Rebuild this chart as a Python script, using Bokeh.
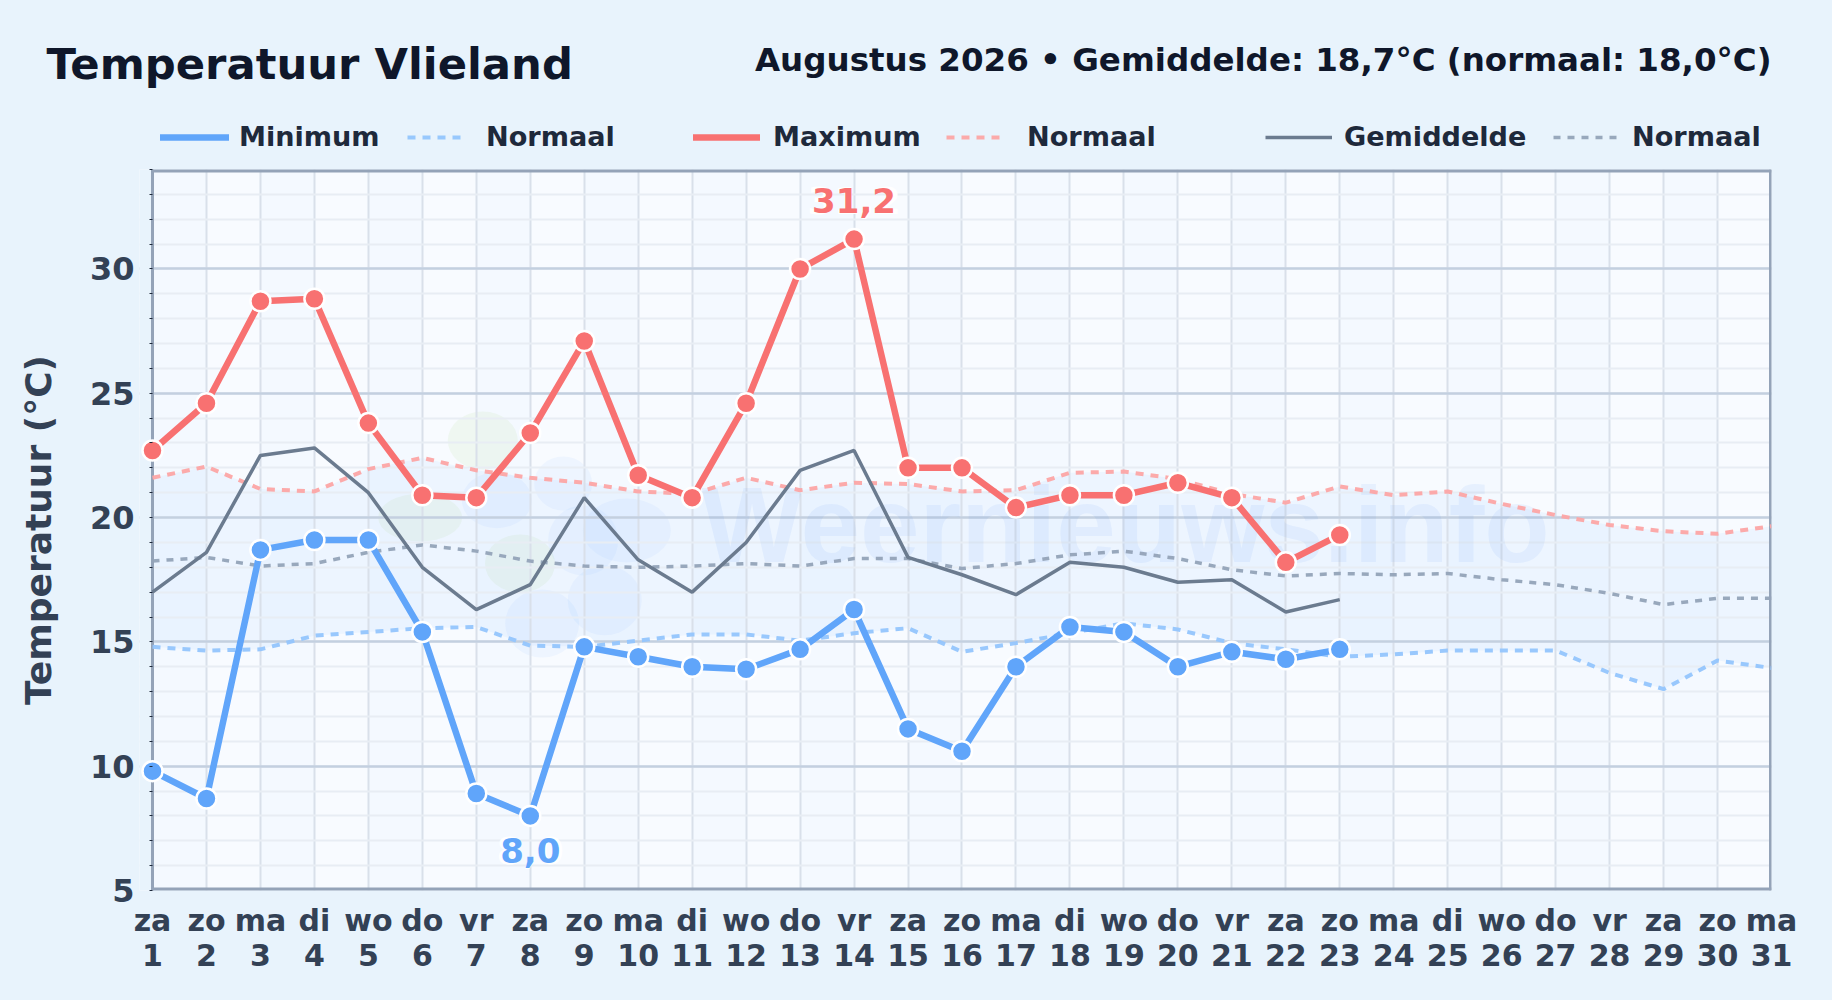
from bokeh.plotting import figure
from bokeh.models import (Label, Legend, LegendItem, FixedTicker, SingleIntervalTicker, Range1d)
from bokeh.core.properties import value
from bokeh.embed import file_html
from bokeh.resources import INLINE

TITLE = "Temperatuur Vlieland"
SUBTITLE = "Augustus 2026 • Gemiddelde: 18,7°C (normaal: 18,0°C)"
YLABEL = "Temperatuur (°C)"
WATERMARK = "Weernieuws.info"
weekdays = ["za","zo","ma","di","wo","do","vr","za","zo","ma","di","wo","do","vr","za","zo","ma","di","wo","do","vr","za","zo","ma","di","wo","do","vr","za","zo","ma"]
days = list(range(1, 32))
tmin = [9.8,8.7,18.7,19.1,19.1,15.4,8.9,8.0,14.8,14.4,14.0,13.9,14.7,16.3,11.5,10.6,14.0,15.6,15.4,14.0,14.6,14.3,14.7]
tmax = [22.7,24.6,28.7,28.8,23.8,20.9,20.8,23.4,27.1,21.7,20.8,24.6,30.0,31.2,22.0,22.0,20.4,20.9,20.9,21.4,20.8,18.2,19.3]
tavg = [17.0,18.6,22.5,22.8,21.0,18.0,16.3,17.3,20.8,18.3,17.0,19.0,21.9,22.7,18.4,17.7,16.9,18.2,18.0,17.4,17.5,16.2,16.7]
nmin = [14.8,14.65,14.7,15.25,15.4,15.55,15.6,14.85,14.8,15.05,15.3,15.3,15.05,15.35,15.55,14.6,14.95,15.35,15.75,15.5,14.95,14.7,14.4,14.5,14.65,14.65,14.65,13.75,13.1,14.25,13.95]
nmax = [21.6,22.05,21.15,21.05,21.95,22.4,21.9,21.6,21.4,21.05,20.95,21.6,21.1,21.4,21.35,21.05,21.1,21.8,21.85,21.55,20.95,20.6,21.25,20.9,21.05,20.55,20.1,19.7,19.45,19.35,19.65]
navg = [18.25,18.4,18.05,18.15,18.6,18.9,18.65,18.25,18.05,18.0,18.05,18.15,18.05,18.35,18.35,17.95,18.15,18.5,18.65,18.35,17.9,17.65,17.75,17.7,17.75,17.5,17.3,16.95,16.5,16.75,16.75]

BG = "#e8f3fc"
BLUE = "#60a5fa"; RED = "#f87171"; SLATE = "#6b7b8f"; EDGE = "#94a3b8"
F = "DejaVu Sans"
STY = {
    "min":  dict(line_color=BLUE, line_width=6.5, line_cap="round"),
    "max":  dict(line_color=RED, line_width=6.5, line_cap="round"),
    "avg":  dict(line_color=SLATE, line_width=3.5),
    "nmin": dict(line_color="#93c5fd", line_width=4, line_dash="8 7", line_alpha=0.95),
    "nmax": dict(line_color="#fca5a5", line_width=4, line_dash="8 7", line_alpha=0.95),
    "navg": dict(line_color=EDGE, line_width=3.5, line_dash="7 7", line_alpha=0.95),
}

# ---------- header: title, subtitle, legend ----------
H = 160
head = figure(width=1832, height=H, output_backend="svg", toolbar_location=None,
              x_range=Range1d(0, 1832), y_range=Range1d(H, 0), x_axis_type=None, y_axis_type=None,
              min_border=0, background_fill_color=BG, border_fill_color=BG)
head.outline_line_color = None; head.grid.visible = False
head.add_layout(Label(x=46, y=63, text=TITLE, text_font=F, text_font_style="bold", text_font_size="43.3px",
                      text_color="#0f172a", text_baseline="alphabetic"))
head.add_layout(Label(x=1771, y=59, text=SUBTITLE, text_font=F, text_font_style="bold", text_font_size="32.5px",
                      text_color="#0f172a", text_align="right", text_baseline="alphabetic"))
entries = [("Minimum", "min", 160, 69, 10), ("Normaal", "nmin", 407, 58, 21), ("Maximum", "max", 693, 67, 13),
           ("Normaal", "nmax", 946, 60, 21), ("Gemiddelde", "avg", 1265, 67, 12), ("Normaal", "navg", 1553, 65, 14)]
for name, key, xpos, gw, standoff in entries:
    r = head.line([-900, -800], [-900, -900], **STY[key])
    head.add_layout(Legend(items=[LegendItem(label=value(name), renderers=[r])], location=(xpos, H - 137 - 15),
                           background_fill_alpha=0, border_line_color=None, label_text_font=F, label_text_font_style="bold",
                           label_text_font_size="27.1px", label_text_color="#1e293b", glyph_width=gw, glyph_height=30,
                           label_height=30, label_standoff=standoff, margin=0, padding=0), "center")

# ---------- main chart ----------
# The frame reaches a little left of day 1 so the first markers are not cut off;
# that strip is painted in the page colour and the plot border is drawn at day 1.
X0 = 1 - 13 / 53.97
p = figure(width=1832, height=840, output_backend="svg", toolbar_location=None,
           x_range=Range1d(X0, 31), y_range=Range1d(5, 34),
           min_border_left=139, min_border_right=61, min_border_top=9, min_border_bottom=110,
           background_fill_color="#f8fbff", border_fill_color=BG)
p.outline_line_color = None

# faint alternating day columns
odd = [d + 0.5 for d in days[:-1] if d % 2 == 1]
p.vbar(x=odd, width=1, bottom=5, top=34, fill_color="#3b82f6", fill_alpha=0.018, line_color=None, level="underlay")

# watermark: logo blobs and name
greens = dict(x=[7.12, 5.96, 7.81], y=[23.1, 20.0, 18.15], width=[70, 84, 70], height=[58, 48, 58])
blues = dict(x=[7.38, 8.61, 9.79, 8.98, 8.22, 9.38], y=[20.7, 21.37, 19.48, 19.08, 15.74, 16.67],
             width=[70, 58, 88, 70, 74, 74], height=[56, 54, 64, 70, 68, 70])
p.ellipse(x="x", y="y", width="width", height="height", source=greens, width_units="screen", height_units="screen",
          fill_color="#a3d977", fill_alpha=0.10, line_color=None, level="underlay")
p.ellipse(x="x", y="y", width="width", height="height", source=blues, width_units="screen", height_units="screen",
          fill_color="#3b82f6", fill_alpha=0.05, line_color=None, level="underlay")
p.add_layout(Label(x=562, y=366, x_units="screen", y_units="screen", text=WATERMARK, text_font="Liberation Sans",
                   text_font_style="bold", text_font_size="107px", text_color="#3b82f6", text_alpha=0.07,
                   text_baseline="alphabetic", level="underlay"))

# normal band
p.varea(days, nmin, nmax, fill_color=BLUE, fill_alpha=0.07, level="underlay")

# strip left of day 1, then the plot border
p.quad(left=[X0], right=[1], bottom=[5], top=[34], fill_color=BG, line_color=None)
p.segment(x0=[1], y0=[5], x1=[1], y1=[34], line_color=EDGE, line_width=3)
p.segment(x0=[1, 1], y0=[5, 34], x1=[31, 31], y1=[5, 34], line_color=EDGE, line_width=6)
p.segment(x0=[31], y0=[5], x1=[31], y1=[34], line_color=EDGE, line_width=5)

p.line(days, nmin, **STY["nmin"])
p.line(days, nmax, **STY["nmax"])
p.line(days, navg, **STY["navg"])
days_obs = days[:len(tmin)]
p.line(days_obs, tavg, **STY["avg"])
p.line(days_obs, tmin, **STY["min"])
p.line(days_obs, tmax, **STY["max"])
p.scatter(days_obs, tmin, size=20, fill_color=BLUE, line_color="white", line_width=2.5)
p.scatter(days_obs, tmax, size=20, fill_color=RED, line_color="white", line_width=2.5)

# extreme labels, from the data: a slightly larger white copy under each gives the halo
imax = tmax.index(max(tmax)); imin = tmin.index(min(tmin))
for i, vals, col, off in ((imax, tmax, RED, -38.5), (imin, tmin, BLUE, 35)):
    label = f"{vals[i]:.1f}".replace(".", ",")
    for color, size in (("#ffffff", "38px"), (col, "34px")):
        p.text([days_obs[i]], [vals[i]], text=[label], text_color=color, text_font=value(F), text_font_style="bold",
               text_font_size=size, text_align="center", text_baseline="middle", y_offset=off)

# axes
p.xaxis.ticker = FixedTicker(ticks=days)
p.xaxis.major_label_overrides = {d: f"{w}\n{d}" for d, w in zip(days, weekdays)}
p.xaxis.major_label_text_font = F; p.xaxis.major_label_text_font_style = "bold"
p.xaxis.major_label_text_font_size = "30px"; p.xaxis.major_label_text_color = "#334155"
p.xaxis.major_label_text_line_height = 1.0
p.xaxis.major_tick_line_color = None; p.xaxis.minor_tick_line_color = None
p.xaxis.axis_line_color = None
p.xaxis.major_label_standoff = 6
p.yaxis.ticker = SingleIntervalTicker(interval=5, num_minor_ticks=5)
p.yaxis.major_label_text_font = F; p.yaxis.major_label_text_font_style = "bold"
p.yaxis.major_label_text_font_size = "32px"; p.yaxis.major_label_text_color = "#334155"
p.yaxis.axis_line_color = None
p.yaxis.major_tick_line_color = None; p.yaxis.major_tick_in = 0; p.yaxis.major_tick_out = 0
p.yaxis.minor_tick_in = 13; p.yaxis.minor_tick_out = -10; p.yaxis.minor_tick_line_color = "#1e293b"
p.yaxis.major_label_standoff = 5
p.yaxis.axis_label = YLABEL
p.yaxis.axis_label_text_font = F; p.yaxis.axis_label_text_font_style = "bold"
p.yaxis.axis_label_text_font_size = "36px"; p.yaxis.axis_label_text_color = "#334155"
p.yaxis.axis_label_standoff = 28

p.xgrid.ticker = FixedTicker(ticks=days); p.xgrid.grid_line_color = "#d9e0ea"; p.xgrid.grid_line_width = 2
p.ygrid.grid_line_color = "#c3d0e0"; p.ygrid.grid_line_width = 2.5
p.ygrid.minor_grid_line_color = "#e8edf4"; p.ygrid.minor_grid_line_width = 2

html = file_html([head, p], INLINE)
html = html.replace("</head>", f"<style>html,body{{background:{BG};overflow:hidden;}}</style></head>", 1)
open("out.html", "w").write(html)
